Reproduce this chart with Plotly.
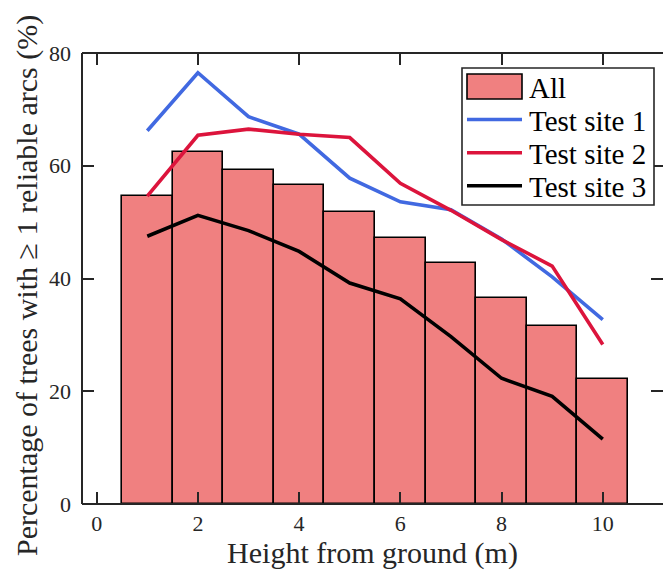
import plotly.graph_objects as go

# Heights above ground (m)
heights = [1, 2, 3, 4, 5, 6, 7, 8, 9, 10]

# Percentage of trees with >= 1 reliable arc, all sites pooled
pct_all = [54.7, 62.4, 59.3, 56.6, 51.8, 47.1, 42.8, 36.6, 31.6, 22.1]

# Per-site percentages
pct_site1 = [66.2, 76.5, 68.7, 65.6, 57.8, 53.6, 52.2, 47.0, 40.3, 32.7]
pct_site2 = [54.6, 65.4, 66.5, 65.6, 65.0, 56.9, 52.1, 46.9, 42.2, 28.3]
pct_site3 = [47.5, 51.2, 48.5, 44.8, 39.2, 36.4, 29.7, 22.3, 19.1, 11.5]

series_names = ["All", "Test site 1", "Test site 2", "Test site 3"]
x_ticks = [0, 2, 4, 6, 8, 10]
y_ticks = [0, 20, 40, 60, 80]
x_title = "Height from ground (m)"
y_title = "Percentage of trees with \u2265 1 reliable arcs (%)"

BAR_COLOR = "#F08080"
SITE_COLORS = ["#4169E1", "#DC143C", "#000000"]
AXIS_COLOR = "#262626"
FONT = "'Liberation Serif', 'DejaVu Serif', serif"

W, H = 663, 573
ML, MR, MT, MB = 82, 0, 53, 69
PW, PH = W - ML - MR, H - MT - MB


def px(xp):
    return (xp - ML) / PW


def py(yp):
    return (H - MB - yp) / PH


fig = go.Figure()

fig.add_trace(go.Bar(
    x=heights, y=pct_all, width=1.0, name=series_names[0],
    marker=dict(color=BAR_COLOR, line=dict(color="black", width=1.6)),
    showlegend=False,
))

for name, vals, col in zip(series_names[1:], [pct_site1, pct_site2, pct_site3], SITE_COLORS):
    fig.add_trace(go.Scatter(
        x=heights, y=vals, mode="lines", name=name,
        line=dict(color=col, width=3.6), showlegend=False,
    ))

axis_common = dict(
    showline=False, mirror="ticks", ticks="inside", ticklen=12, tickwidth=2,
    tickcolor=AXIS_COLOR, showgrid=False, zeroline=False,
    tickfont=dict(family=FONT, size=22, color=AXIS_COLOR),
)

fig.update_xaxes(
    range=[-0.29, 11.19], tickvals=x_ticks, ticklabelstandoff=4,
    title_text=x_title, title_standoff=5,
    title_font=dict(family=FONT, size=30, color=AXIS_COLOR), **axis_common,
)
fig.update_yaxes(range=[0, 80], tickvals=y_ticks, ticklabelstandoff=10, **axis_common)

shapes = []
# Axes box: left, bottom and top spines
for x0, y0, x1, y1 in [(0, 0, 0, 1), (0, 0, 1, 0), (0, 1, 1, 1)]:
    shapes.append(dict(type="line", xref="paper", yref="paper", x0=x0, y0=y0, x1=x1, y1=y1,
                       line=dict(color=AXIS_COLOR, width=2), layer="above"))

# Legend box
shapes.append(dict(type="rect", xref="paper", yref="paper",
                   x0=px(462), x1=px(654), y0=py(205), y1=py(68),
                   fillcolor="white", line=dict(color=AXIS_COLOR, width=1.6), layer="above"))
row_y = [86.5, 119.5, 152.7, 185.7]
sw_x0, sw_x1, txt_x = 467, 522, 527
shapes.append(dict(type="rect", xref="paper", yref="paper",
                   x0=px(sw_x0), x1=px(sw_x1), y0=py(row_y[0] + 12.5), y1=py(row_y[0] - 12.5),
                   fillcolor=BAR_COLOR, line=dict(color="black", width=1.6), layer="above"))
for yy, col in zip(row_y[1:], SITE_COLORS):
    shapes.append(dict(type="line", xref="paper", yref="paper",
                       x0=px(sw_x0), x1=px(sw_x1), y0=py(yy), y1=py(yy),
                       line=dict(color=col, width=3.6), layer="above"))

annotations = []
for yy, name in zip(row_y, series_names):
    annotations.append(dict(xref="paper", yref="paper", x=px(txt_x), y=py(yy + 1),
                            text=name, showarrow=False, xanchor="left", yanchor="middle",
                            font=dict(family=FONT, size=29, color="black")))

# Vertical axis title
annotations.append(dict(xref="paper", yref="paper", x=px(27), y=py(286),
                        text=y_title, textangle=-90, showarrow=False,
                        xanchor="center", yanchor="middle",
                        font=dict(family=FONT, size=30, color=AXIS_COLOR)))

fig.update_layout(
    width=W, height=H, margin=dict(l=ML, r=MR, t=MT, b=MB),
    paper_bgcolor="white", plot_bgcolor="white",
    bargap=0, shapes=shapes, annotations=annotations,
)

fig.write_html("out.html")
